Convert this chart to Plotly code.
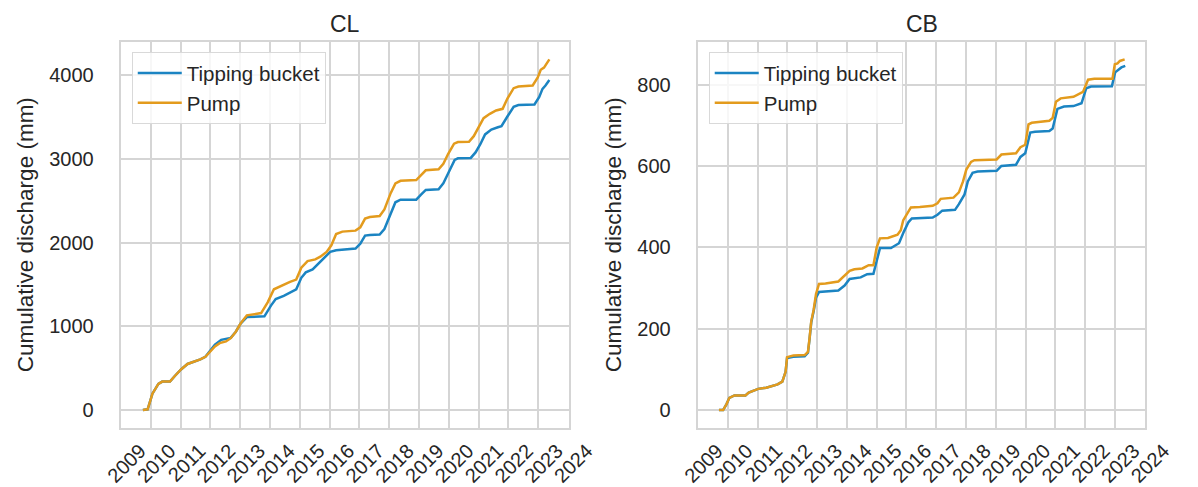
import datetime as dt
import plotly.graph_objects as go

# ---- CL site: cumulative discharge (mm), dates as decimal years ----
cl_tb_years = [2009.73, 2009.89, 2010.05, 2010.25, 2010.38, 2010.64, 2010.81, 2011.02, 2011.23,
               2011.45, 2011.66, 2011.83, 2011.99, 2012.15, 2012.36, 2012.52, 2012.68, 2012.85,
               2013.01, 2013.22, 2013.81, 2014.03, 2014.19, 2014.46, 2014.67, 2014.88, 2015.05,
               2015.20, 2015.43, 2015.64, 2015.85, 2016.02, 2016.22, 2016.87, 2017.03, 2017.19,
               2017.35, 2017.68, 2017.84, 2018.05, 2018.21, 2018.38, 2018.91, 2019.07, 2019.23,
               2019.66, 2019.82, 2019.98, 2020.20, 2020.31, 2020.74, 2020.90, 2021.06, 2021.22,
               2021.43, 2021.65, 2021.77, 2021.97, 2022.18, 2022.34, 2022.88, 2023.04, 2023.15,
               2023.25, 2023.38]
cl_tb_vals = [0, 8, 195, 312, 339, 339, 409, 487, 550,
              573, 604, 635, 702, 780, 838, 846, 862, 936,
              1033, 1111, 1119, 1248, 1326, 1365, 1404, 1443, 1580,
              1645, 1680, 1753, 1832, 1890, 1910, 1929, 1988, 2085,
              2093, 2097, 2163, 2358, 2483, 2514, 2514, 2573, 2631,
              2639, 2709, 2826, 2990, 3009, 3013, 3079, 3177, 3294,
              3352, 3380, 3392, 3508, 3625, 3645, 3652, 3742, 3839,
              3879, 3945]

cl_pump_years = [2009.73, 2009.89, 2010.05, 2010.25, 2010.38, 2010.64, 2010.81, 2011.02, 2011.23,
                 2011.45, 2011.66, 2011.83, 2011.99, 2012.15, 2012.31, 2012.52, 2012.68, 2012.85,
                 2013.01, 2013.22, 2013.70, 2013.92, 2014.13, 2014.35, 2014.67, 2014.88, 2015.05,
                 2015.26, 2015.52, 2015.69, 2015.90, 2016.06, 2016.22, 2016.43, 2016.87, 2017.03,
                 2017.19, 2017.35, 2017.68, 2017.84, 2018.05, 2018.21, 2018.38, 2018.91, 2019.07,
                 2019.23, 2019.66, 2019.82, 2019.98, 2020.18, 2020.31, 2020.68, 2020.84, 2021.00,
                 2021.17, 2021.38, 2021.59, 2021.81, 2021.97, 2022.18, 2022.34, 2022.82, 2022.99,
                 2023.09, 2023.20, 2023.38]
cl_pump_vals = [0, 8, 195, 312, 339, 339, 409, 487, 550,
                573, 604, 635, 702, 760, 799, 819, 858, 936,
                1033, 1131, 1158, 1287, 1443, 1481, 1532, 1559, 1700,
                1780, 1800, 1832, 1890, 1968, 2104, 2132, 2144, 2183,
                2288, 2307, 2319, 2397, 2592, 2709, 2740, 2748, 2806,
                2865, 2877, 2943, 3060, 3184, 3203, 3207, 3273, 3371,
                3488, 3540, 3580, 3600, 3723, 3847, 3867, 3879, 3976,
                4066, 4093, 4191]

# ---- CB site ----
cb_tb_years = [2009.70, 2009.84, 2009.95, 2010.05, 2010.22, 2010.59, 2010.70, 2010.86, 2011.02,
               2011.29, 2011.51, 2011.67, 2011.83, 2011.94, 2011.99, 2012.20, 2012.58, 2012.69,
               2012.74, 2012.80, 2012.88, 2012.96, 2013.06, 2013.71, 2013.92, 2014.09, 2014.46,
               2014.68, 2014.89, 2015.02, 2015.11, 2015.48, 2015.75, 2015.91, 2016.07, 2016.18,
               2016.88, 2017.04, 2017.20, 2017.63, 2017.76, 2017.95, 2018.06, 2018.22, 2018.39,
               2019.03, 2019.19, 2019.68, 2019.83, 2019.99, 2020.16, 2020.32, 2020.80, 2020.91,
               2021.07, 2021.29, 2021.61, 2021.88, 2022.04, 2022.20, 2022.90, 2023.01, 2023.11,
               2023.22, 2023.35]
cb_tb_vals = [0, 0, 14, 30, 36, 36, 43, 47, 52,
              55, 60, 63, 70, 94, 128, 131, 132, 141,
              172, 215, 243, 276, 290, 294, 306, 322, 326,
              334, 335, 370, 398, 398, 410, 438, 462, 471,
              473, 480, 490, 492, 506, 530, 562, 583, 586,
              588, 600, 603, 622, 631, 682, 684, 686, 692,
              740, 746, 747, 754, 791, 795, 796, 830, 836,
              842, 846]

cb_pump_years = [2009.70, 2009.84, 2009.95, 2010.05, 2010.22, 2010.59, 2010.70, 2010.86, 2011.02,
                 2011.29, 2011.51, 2011.67, 2011.83, 2011.94, 2011.99, 2012.20, 2012.58, 2012.69,
                 2012.74, 2012.80, 2012.88, 2012.96, 2013.06, 2013.28, 2013.71, 2013.87, 2014.09,
                 2014.25, 2014.52, 2014.73, 2014.89, 2015.00, 2015.11, 2015.38, 2015.70, 2015.81,
                 2015.89, 2016.02, 2016.15, 2016.45, 2016.88, 2017.04, 2017.15, 2017.58, 2017.76,
                 2017.90, 2018.01, 2018.17, 2018.28, 2019.03, 2019.19, 2019.68, 2019.83, 2019.99,
                 2020.10, 2020.21, 2020.80, 2020.91, 2021.02, 2021.18, 2021.61, 2021.93, 2022.10,
                 2022.31, 2022.92, 2023.00, 2023.09, 2023.17, 2023.33]
cb_pump_vals = [0, 0, 14, 30, 36, 36, 43, 47, 52,
                55, 60, 63, 70, 94, 130, 134, 135, 143,
                174, 218, 246, 285, 310, 311, 316, 326, 342,
                346, 348, 356, 356, 400, 422, 423, 431, 442,
                466, 482, 498, 499, 502, 508, 519, 522, 535,
                562, 591, 610, 614, 616, 628, 631, 646, 652,
                702, 706, 711, 718, 758, 766, 770, 782, 812,
                814, 814, 850, 852, 858, 862]

panel_titles = ["CL", "CB"]
series_names = ["Tipping bucket", "Pump"]
y_title = "Cumulative discharge (mm)"

BLUE = "#1b84c2"
ORANGE = "#e39b1d"
TEXT = "#262626"
GRID = "#d5d5d5"
FONT = "Arial, Liberation Sans, sans-serif"

W, H = 1198, 487


def to_date(y):
    yr = int(y)
    start = dt.datetime(yr, 1, 1)
    end = dt.datetime(yr + 1, 1, 1)
    return start + (end - start) * (y - yr)


def px_x(p):
    return p / W


def px_y(p):
    return 1 - p / H


fig = go.Figure()

panels = [
    (cl_tb_years, cl_tb_vals, cl_pump_years, cl_pump_vals, "x", "y", "legend"),
    (cb_tb_years, cb_tb_vals, cb_pump_years, cb_pump_vals, "x2", "y2", "legend2"),
]
for tb_x, tb_y, pu_x, pu_y, xa, ya, leg in panels:
    fig.add_trace(go.Scatter(x=[to_date(v) for v in tb_x], y=tb_y, mode="lines",
                             name=series_names[0], line=dict(color=BLUE, width=2.5),
                             xaxis=xa, yaxis=ya, legend=leg))
    fig.add_trace(go.Scatter(x=[to_date(v) for v in pu_x], y=pu_y, mode="lines",
                             name=series_names[1], line=dict(color=ORANGE, width=2.5),
                             xaxis=xa, yaxis=ya, legend=leg))

x_domains = [[px_x(106.7), px_x(572.7)], [px_x(706.7), px_x(1172.5)]]
y_domain = [px_y(436.5), px_y(42.7)]
y_ranges = [[-210, 4401], [-43, 905]]
y_dticks = [1000, 200]

common_x = dict(
    type="date", range=["2008-12-25", "2024-01-12"], dtick="M12", tick0="2009-01-01",
    tickformat="%Y", tickangle=-45, ticklabelshift=19, ticklabelstandoff=2,
    showgrid=True, gridcolor=GRID, gridwidth=1.5, zeroline=False,
    showline=True, mirror=True, linecolor=GRID, linewidth=1.8, ticks="",
    tickfont=dict(family=FONT, size=20, color=TEXT),
)
common_y = dict(
    showgrid=True, gridcolor=GRID, gridwidth=1.5, zeroline=False,
    showline=True, mirror=True, linecolor=GRID, linewidth=1.8, ticks="",
    ticklabelstandoff=21, tickfont=dict(family=FONT, size=20, color=TEXT),
    title=dict(text=y_title, font=dict(family=FONT, size=22.5, color=TEXT), standoff=9),
)

layout = dict(
    width=W, height=H, margin=dict(l=0, r=0, t=0, b=0),
    paper_bgcolor="white", plot_bgcolor="white",
    font=dict(family=FONT, color=TEXT),
)
for i in range(2):
    sx = "" if i == 0 else str(i + 1)
    layout["xaxis" + sx] = dict(common_x, domain=x_domains[i], anchor="y" + sx)
    layout["yaxis" + sx] = dict(common_y, domain=y_domain, anchor="x" + sx,
                                range=y_ranges[i], dtick=y_dticks[i])
    layout["legend" + ("" if i == 0 else str(i + 1))] = dict(
        x=x_domains[i][0] + px_x(11.6), y=px_y(53.3), xanchor="left", yanchor="top",
        bgcolor="rgba(255,255,255,0.8)", bordercolor="#d9d9d9", borderwidth=1,
        itemwidth=44, font=dict(family=FONT, size=20.5, color=TEXT),
    )
fig.update_layout(**layout)

for i, t in enumerate(panel_titles):
    fig.add_annotation(text=t, xref="paper", yref="paper",
                       x=sum(x_domains[i]) / 2, y=px_y(24), xanchor="center", yanchor="middle",
                       showarrow=False, font=dict(family=FONT, size=23, color=TEXT))

fig.write_html("out.html")
